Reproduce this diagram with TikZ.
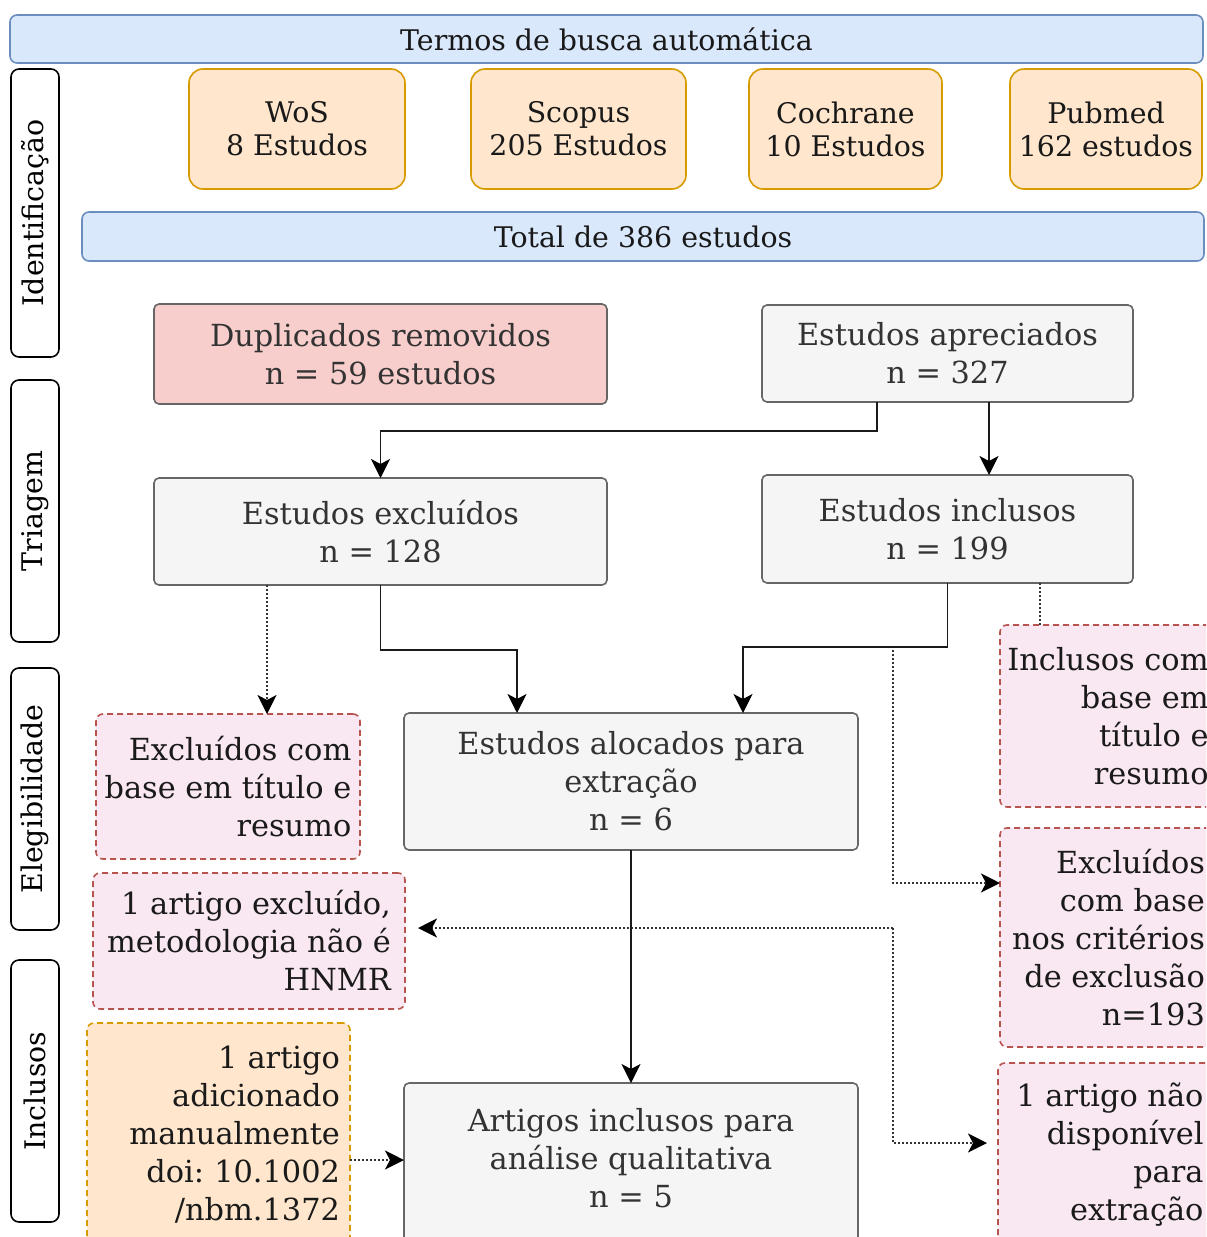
\documentclass[tikz,border=0pt]{standalone}
\usepackage{fontspec}
\setmainfont{DejaVu Serif}
\usetikzlibrary{arrows.meta}
\frenchspacing
\definecolor{bluefill}{HTML}{DAE8FC}
\definecolor{blueline}{HTML}{6C8EBF}
\definecolor{orfill}{HTML}{FFE6CC}
\definecolor{orline}{HTML}{D79B00}
\definecolor{grayfill}{HTML}{F5F5F5}
\definecolor{grayline}{HTML}{666666}
\definecolor{graytext}{HTML}{333333}
\definecolor{redfill}{HTML}{F8CECC}
\definecolor{pinkfill}{HTML}{F9E7F2}
\definecolor{pinkline}{HTML}{B85450}
\definecolor{pinktext}{HTML}{1A1A1A}
\definecolor{linecol}{HTML}{1A1A1A}
\definecolor{dotcol}{HTML}{333333}
\begin{document}
\begin{tikzpicture}[x=0.5pt,y=-0.5pt,
  every node/.style={inner sep=0pt, outer sep=0pt},
  place/.style args={#1/#2/#3/#4}{minimum width={(#3-#1)*0.5pt}, minimum height={(#4-#2)*0.5pt}, at={({(#1+#3)/2},{(#2+#4)/2})}},
  box/.style={rectangle, line width=0.8pt, align=center},
  fa/.style={font=\fontsize{15.2}{19}\selectfont},
  fb/.style={font=\fontsize{14.2}{16.5}\selectfont},
  bluebox/.style={box, fb, fill=bluefill, draw=blueline, rounded corners=3.5pt, text=black!90},
  orbox/.style={box, fb, fill=orfill, draw=orline, rounded corners=7pt, text=black!90},
  graybox/.style={box, fa, fill=grayfill, draw=grayline, rounded corners=2.5pt, text=graytext},
  redbox/.style={graybox, fill=redfill},
  pinkbox/.style={rectangle, line width=0.8pt, fa, align=right, fill=pinkfill, draw=pinkline, dash pattern=on 3pt off 2pt, rounded corners=3.5pt, text=pinktext},
  manbox/.style={pinkbox, fill=orfill, draw=orline},
  sidebox/.style={rectangle, draw=black, line width=0.8pt, fill=white, rounded corners=4pt},
  sidetext/.style={fb, rotate=90, text=black},
  tip/.style={-{Stealth[length=9.5pt,width=9.5pt,inset=2.5pt,color=black]}},
  arr/.style={draw=linecol, line width=0.8pt, tip},
  dotl/.style={draw=dotcol, line width=0.9pt, dash pattern=on 0.9pt off 1.1pt},
  dotarr/.style={dotl, tip},
]
\useasboundingbox (0,0) rectangle (1206,1237);
\fill[white] (0,0) rectangle (1206,1237);
\clip (0,0) rectangle (1206,1237);

% side labels
\node[sidebox, place=11/69/59/357] (lid) {};
\node[sidetext] (lidt) at (lid.center) {Identificação};
\node[sidebox, place=11/380/59/642] (ltr) {};
\node[sidetext] (ltrt) at (ltr.center) {Triagem};
\node[sidebox, place=11/668/59/930] (lel) {};
\node[sidetext] (lelt) at (lel.center) {Elegibilidade};
\node[sidebox, place=11/960/59/1222] (lin) {};
\node[sidetext] (lint) at (lin.center) {Inclusos};

% identification
\node[bluebox, place=10/15/1203/63] (top) {Termos de busca automática};
\node[orbox, place=189/69/405/189] (wos) {WoS\\8 Estudos};
\node[orbox, place=471/69/686/189] (scopus) {Scopus\\205 Estudos};
\node[orbox, place=749/69/942/189] (cochrane) {Cochrane\\10 Estudos};
\node[orbox, place=1010/69/1202/189] (pubmed) {Pubmed\\162 estudos};
\node[bluebox, place=82/212/1204/261] (total) {Total de 386 estudos};

% screening
\node[redbox, place=154/304/607/404] (dup) {Duplicados removidos\\n = 59 estudos};
\node[graybox, place=762/305/1133/402] (apr) {Estudos apreciados\\n = 327};
\node[graybox, place=154/478/607/585] (exc) {Estudos excluídos\\n = 128};
\node[graybox, place=762/475/1133/583] (inc) {Estudos inclusos\\n = 199};

% eligibility
\node[pinkbox, place=96/714/360/859] (excTA) {Excluídos com\\base em título e\\resumo};
\node[graybox, place=404/713/858/850] (aloc) {Estudos alocados para\\extração\\n = 6};
\node[pinkbox, place=93/873/405/1009] (art1) {1 artigo excluído,\\metodologia não é\\HNMR};
\node[pinkbox, place=1000/625/1216/807] (incTA) {Inclusos com\\base em\\título e\\resumo};
\node[pinkbox, place=1000/828/1217/1047] (excCrit) {Excluídos\\com base\\nos critérios\\de exclusão\\n=193};

% included
\node[manbox, text width=121.5pt, place=87/1023/350/1247] (manual) {1 artigo\\adicionado\\manualmente\\doi: 10.1002\\/nbm.1372};
\node[graybox, text depth=5pt, place=404/1083/858/1242] (artInc) {Artigos inclusos para\\análise qualitativa\\n = 5};
\node[pinkbox, place=998/1063/1222/1247] (naoDisp) {1 artigo não\\disponível\\para\\extração};

% connectors
\coordinate (c1) at (877,431);
\draw[arr] (apr.south -| c1) -- (c1) -| (exc.north);
\coordinate (c2) at (989,440);
\draw[arr] (apr.south -| c2) -- (inc.north -| c2);
\coordinate (c3) at (267,600);
\draw[dotarr] (exc.south -| c3) -- (excTA.north -| c3);
\coordinate (c4) at (517,650);
\draw[arr] (exc.south) |- (c4) -- (aloc.north -| c4);
\coordinate (c5) at (743,647);
\draw[arr] (inc.south) |- (c5) -- (aloc.north -| c5);
\coordinate (c6) at (1040,600);
\draw[dotl] (inc.south -| c6) -- (incTA.north -| c6);
\coordinate (c7) at (893,650);
\coordinate (c8) at (893,883);
\draw[dotarr] (c7) -- (c8) -- (excCrit.west |- c8);
\coordinate (c9) at (893,928);
\coordinate (c10) at (893,1143);
\draw[dotarr, shorten >=6.5pt] (c9) -- (art1.east |- c9);
\draw[dotarr, shorten >=5.5pt] (c9) -- (c10) -- (naoDisp.west |- c10);
\draw[arr] (aloc.south) -- (artInc.north);
\coordinate (c11) at (380,1160);
\draw[dotarr] (manual.east |- c11) -- (artInc.west |- c11);
\end{tikzpicture}
\end{document}
